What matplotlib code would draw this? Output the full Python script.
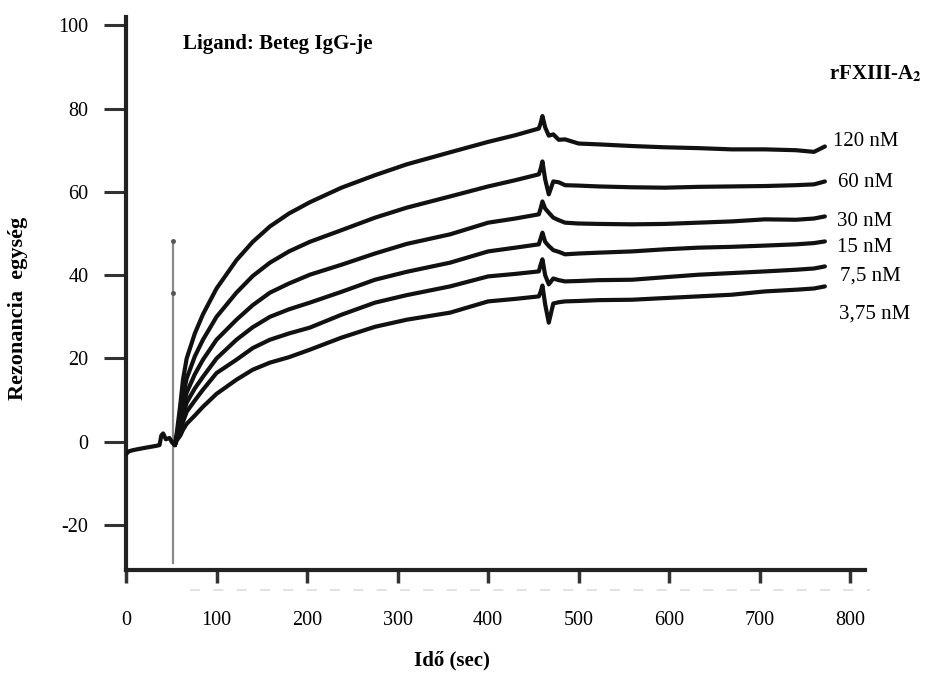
import matplotlib
matplotlib.use("Agg")
import matplotlib.pyplot as plt
from matplotlib.lines import Line2D

plt.rcParams["font.family"] = ["Liberation Serif", "DejaVu Serif"]
plt.rcParams["mathtext.fontset"] = "stix"
plt.rcParams["axes.unicode_minus"] = False

# baseline before injection
x_base = [0, 3, 8, 15, 25, 33, 37, 39, 41, 44, 48, 51, 54]
y_base = [-3, -2.3, -2, -1.7, -1.3, -1.0, -0.8, 1.5, 2.0, 0.6, 0.9, -0.2, -0.8]

# injection spike
spike_x = 52
spike_lo, spike_hi, spike_mark = -29, 48.3, 35.8

# association + dissociation, one list per concentration
x_t = [54, 56, 60, 63, 67, 76, 85, 100, 122, 140, 159, 180, 203, 238, 275, 310, 358, 400, 430, 456,
       458, 460, 463, 467, 472, 478, 485, 500, 522, 559, 595, 632, 669, 706, 740, 760, 772]

c120 = [-0.8, 2, 9, 15, 20, 26, 30.6, 36.8, 43.6, 48, 51.7, 54.8, 57.5, 61.0, 64.0, 66.6, 69.5, 72.0, 73.6, 75.2,
        76.5, 78.2, 75.5, 73.5, 73.8, 72.5, 72.6, 71.6, 71.4, 71.0, 70.7, 70.5, 70.2, 70.2, 70.0, 69.6, 70.9]
c60 = [-0.8, 1.5, 6, 11, 15.2, 20.5, 24.5, 30, 35.8, 39.8, 43, 45.7, 48.0, 50.8, 53.8, 56.2, 58.9, 61.3, 62.8, 64.2,
       65.5, 67.3, 63, 59.4, 62.5, 62.3, 61.6, 61.5, 61.3, 61.1, 61.0, 61.2, 61.3, 61.4, 61.6, 61.8, 62.5]
c30 = [-0.8, 1.2, 4.5, 8.3, 11.8, 16.2, 19.7, 24.5, 29.3, 32.8, 35.8, 38, 40.1, 42.5, 45.2, 47.5, 49.8, 52.6, 53.6, 54.6,
       56, 57.7, 56, 55, 53.8, 53.2, 52.6, 52.4, 52.3, 52.2, 52.3, 52.6, 52.9, 53.4, 53.3, 53.6, 54.1]
c15 = [-0.8, 1, 3.5, 6.4, 9.4, 12.8, 15.6, 20, 24.5, 27.5, 30, 31.8, 33.4, 36.0, 38.9, 40.8, 43.0, 45.7, 46.6, 47.4,
       48.8, 50.2, 48, 47, 46, 45.6, 45.0, 45.2, 45.4, 45.7, 46.2, 46.6, 46.8, 47.1, 47.4, 47.7, 48.1]
c7_5 = [-0.8, 0.6, 2.5, 4.8, 7.2, 9.9, 12.5, 16.5, 19.7, 22.5, 24.5, 26, 27.4, 30.5, 33.4, 35.2, 37.3, 39.7, 40.3, 40.9,
        42.5, 43.8, 40, 37.8, 39.2, 38.8, 38.5, 38.6, 38.8, 38.9, 39.5, 40.1, 40.5, 40.9, 41.3, 41.6, 42.1]
c3_75 = [-0.8, 0.3, 1.5, 2.9, 4.3, 6.3, 8.4, 11.5, 14.9, 17.3, 19.0, 20.3, 22.1, 25.0, 27.6, 29.3, 31.0, 33.7, 34.3, 34.9,
         36, 37.5, 33, 28.6, 33.2, 33.5, 33.7, 33.8, 34.0, 34.1, 34.5, 34.9, 35.3, 36.1, 36.5, 36.8, 37.3]

curves = [c120, c60, c30, c15, c7_5, c3_75]
labels = ["120 nM", "60 nM", "30 nM", "15 nM", "7,5 nM", "3,75 nM"]
label_x = [781, 786, 785, 785, 789, 788]
label_y = [72.1, 62.2, 53.0, 46.6, 39.8, 30.6]

fig = plt.figure(figsize=(9.28, 6.77), dpi=100)
ax = fig.add_axes([0.1358, 0.158, 0.796, 0.817])

ax.plot([spike_x, spike_x], [spike_lo, spike_hi], color="#8a8a8a", lw=1.6, zorder=1)
ax.plot([spike_x, spike_x], [spike_hi, spike_mark], ls="none", marker="o", ms=2.5, color="#555555", zorder=1)

ax.plot(x_base, y_base, color="#111111", lw=3, solid_capstyle="round", zorder=3)
for c in curves:
    ax.plot(x_t, c, color="#111111", lw=3, solid_joinstyle="round", solid_capstyle="round", zorder=3)

for lab, lx, ly in zip(labels, label_x, label_y):
    ax.text(lx, ly, lab, fontsize=15, va="center", ha="left", clip_on=False)

ax.text(777, 88.2, r"rFXIII-A$_{\mathbf{2}}$", fontsize=15, fontweight="bold", va="center", ha="left")
ax.text(63, 95.4, "Ligand: Beteg IgG-je", fontsize=15, fontweight="bold", va="center", ha="left")

ax.set_xlim(0, 816)
ax.set_ylim(-30.8, 102)
ax.set_xticks(range(0, 801, 100))
ax.set_yticks(range(-20, 101, 20))

for s in ["top", "right"]:
    ax.spines[s].set_visible(False)
for s in ["left", "bottom"]:
    ax.spines[s].set_linewidth(3)
    ax.spines[s].set_color("#222222")

ax.tick_params(axis="y", direction="out", length=16, width=2.2, pad=11, labelsize=14.5, color="#333333")
ax.tick_params(axis="x", direction="out", length=9.5, width=2.5, pad=20, labelsize=14.5, color="#333333")

fig.text(18 / 928, 1 - 308 / 677, "Rezonancia  egység", rotation=90, fontsize=16,
         fontweight="bold", ha="center", va="center")
fig.text(452 / 928, 1 - 660 / 677, "Idő (sec)", fontsize=15, fontweight="bold", ha="center", va="center")

# faint dashed line under the x axis
fig.add_artist(Line2D([190 / 928, 870 / 928], [1 - 590 / 677, 1 - 590 / 677], color="#dddddd",
                      lw=1.2, ls=(0, (6, 8))))

fig.savefig("out.png", dpi=100)
